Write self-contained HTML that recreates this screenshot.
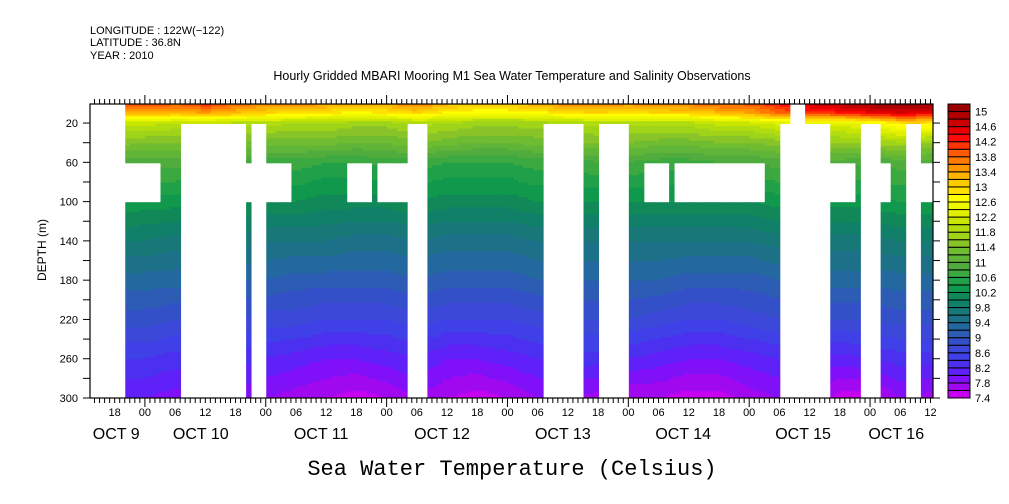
<!DOCTYPE html>
<html><head><meta charset="utf-8">
<style>
html,body{margin:0;padding:0;background:#fff;}
svg{display:block;font-family:"Liberation Sans",sans-serif;}
</style></head>
<body>
<svg id="chart" width="1009" height="504" viewBox="0 0 1009 504" xmlns="http://www.w3.org/2000/svg">
<g font-size="11" fill="#000">
<text x="90" y="34">LONGITUDE : 122W(−122)</text>
<text x="90" y="46">LATITUDE : 36.8N</text>
<text x="90" y="59">YEAR : 2010</text>
</g>
<text x="512" y="80" text-anchor="middle" font-size="12.5">Hourly Gridded MBARI Mooring M1 Sea Water Temperature and Salinity Observations</text>
<g id="heat"></g>
<g id="axes"></g>
<g id="cbar"></g>
<text transform="translate(46,250) rotate(-90)" text-anchor="middle" font-size="12">DEPTH (m)</text>
<text x="512" y="475" text-anchor="middle" font-family="Liberation Mono, monospace" font-size="22">Sea Water Temperature (Celsius)</text>
</svg>
<script>
// ---- data ----
const hours = [12,18,24,30,36,42,48,54,60,66,72,78,84,90,96,102,108,114,120,126,132,138,144,150,156,162,168,174,180,186];
const depths = [0,10,20,40,60,100,140,180,220,260,300];
const temp0   = [13.8,13.8,14.1,13.9,14.2,13.8,13.6,13.6,13.5,13.4,13.4,13.7,13.3,13.2,13.2,13.4,13.6,13.6,13.5,13.6,13.7,13.9,13.9,14.3,14.7,14.9,15.1,15.2,15.1,15.1];
const temp10  = [13.2,13.2,13.3,13.2,13.4,13.2,13.0,12.9,12.8,12.7,12.8,13.0,12.7,12.6,12.6,12.7,12.9,13.0,12.9,13.0,13.0,13.2,13.4,13.8,14.0,14.2,14.4,14.6,14.4,14.4];
const temp20  = [12.1,12.1,12.1,12.0,12.0,11.9,11.9,11.8,11.8,11.7,11.7,11.9,11.8,11.7,11.7,11.7,11.8,11.9,11.9,11.9,11.9,12.1,12.1,12.3,12.3,12.3,12.5,12.9,12.9,12.9];
const temp40  = [11.6,11.5,11.4,11.4,11.4,11.4,11.3,11.3,11.3,11.2,11.2,11.4,11.3,11.2,11.2,11.3,11.4,11.4,11.4,11.3,11.3,11.4,11.4,11.5,11.6,11.6,11.6,11.8,11.6,11.6];
const temp60  = [10.9,10.9,10.9,10.9,10.8,10.8,10.7,10.7,10.6,10.6,10.7,10.7,10.6,10.6,10.6,10.7,10.7,10.8,10.8,10.7,10.7,10.8,10.8,10.9,10.9,10.9,10.8,10.9,10.9,10.9];
const temp100 = [10.4,10.4,10.3,10.3,10.2,10.2,10.2,10.2,10.1,10.1,10.1,10.2,10.1,10.1,10.1,10.2,10.2,10.2,10.2,10.2,10.2,10.2,10.2,10.3,10.3,10.3,10.3,10.4,10.4,10.4];
const temp140 = [9.8,9.8,9.8,9.7,9.7,9.7,9.6,9.6,9.6,9.5,9.5,9.6,9.5,9.5,9.5,9.6,9.6,9.6,9.6,9.6,9.6,9.6,9.6,9.7,9.7,9.7,9.7,9.8,9.8,9.8];
const temp180 = [9.3,9.3,9.3,9.3,9.2,9.2,9.2,9.1,9.1,9.1,9.1,9.2,9.1,9.1,9.1,9.2,9.2,9.2,9.2,9.2,9.1,9.1,9.1,9.2,9.3,9.3,9.3,9.3,9.3,9.3];
const temp220 = [8.9,8.9,8.9,8.8,8.8,8.8,8.7,8.7,8.6,8.6,8.6,8.7,8.6,8.6,8.6,8.7,8.8,8.8,8.8,8.7,8.6,8.6,8.7,8.8,8.8,8.8,8.8,8.9,8.9,8.9];
const temp260 = [8.4,8.4,8.4,8.3,8.3,8.3,8.2,8.1,8.0,8.0,8.1,8.2,8.0,8.0,8.1,8.2,8.3,8.3,8.2,8.1,8.0,8.0,8.1,8.2,8.2,8.1,8.2,8.3,8.3,8.3];
const temp300 = [8.0,8.0,8.0,7.9,7.9,7.9,7.8,7.7,7.6,7.5,7.6,7.8,7.6,7.5,7.6,7.8,7.8,7.7,7.6,7.6,7.5,7.5,7.7,7.8,7.8,7.5,7.5,7.8,7.7,7.7];
// missing-data gaps: [startHour, endHour, topDepth, bottomDepth]
const gapStart = [13,20.2,31.0,45.1,43.9,64.1,70.1,76.0,103.0,114.0,123.1,129.3,150.3,152.3,160.0,166.4,170.2,175.3,178.1];
const gapEnd   = [20.2,26.8,43.9,47.8,52.8,68.9,76.0,80.0,111.0,119.9,127.9,147.1,160.0,155.1,165.2,170.2,172.2,178.1,181];
const gapTop   = [0,60,20,20,60,60,60,20,20,20,60,60,20,0,60,20,60,20,60];
const gapBot   = [300,100,300,300,100,100,100,300,300,300,100,100,300,20,100,300,100,300,100];
// colour levels
const levelMin = 7.4, levelStep = 0.2;
const levelColors = ["#c800f0","#a008f0","#8010f8","#6020f8","#4c30f0","#4040e8","#3c48d8","#3450c8","#2c5cb4","#2468a0","#1c7088","#187878","#108068","#108858","#10984c","#20a048","#3ca840","#50ac3c","#60b438","#70bc30","#88c428","#a0d418","#b0dc10","#c8e600","#e0f000","#f0f800","#ffff00","#ffe000","#ffcc00","#ffb400","#ff9600","#ff7a00","#ff5a00","#ff3300","#ff0a0a","#e60000","#cc0000","#b00000","#9b0000"];
const cbLabels = ["15","14.6","14.2","13.8","13.4","13","12.6","12.2","11.8","11.4","11","10.6","10.2","9.8","9.4","9","8.6","8.2","7.8","7.4"];
const yTickLabels = ["20","60","100","140","180","220","260","300"];
const xHourLabels = ["18","00","06","12","18","00","06","12","18","00","06","12","18","00","06","12","18","00","06","12","18","00","06","12","18","00","06","12","18","00","06","12"];
const dayLabels = ["OCT  9","OCT 10","OCT 11","OCT 12","OCT 13","OCT 14","OCT 15","OCT 16"];
const dayLabelHour = [18.3,35.1,59.0,83.0,107.0,130.9,154.7,173.2];

// ---- scales ----
const PL=90, PR=933, PT=104, PB=398;
const H0=13.1, H1=180.5, D0=0.6, D1=300;
const xS = h => PL + (h-H0)/(H1-H0)*(PR-PL);
const yS = d => PT + (d-D0)/(D1-D0)*(PB-PT);
const NS="http://www.w3.org/2000/svg";
function mk(tag, attrs, parent){const e=document.createElementNS(NS,tag);for(const k in attrs)e.setAttribute(k,attrs[k]);parent.appendChild(e);return e;}
const grid=[temp0,temp10,temp20,temp40,temp60,temp100,temp140,temp180,temp220,temp260,temp300];

function interp(h,d){
  let i=0; while(i<hours.length-2 && h>hours[i+1]) i++;
  let j=0; while(j<depths.length-2 && d>depths[j+1]) j++;
  const tx=Math.min(1,Math.max(0,(h-hours[i])/(hours[i+1]-hours[i])));
  const ty=Math.min(1,Math.max(0,(d-depths[j])/(depths[j+1]-depths[j])));
  const a=grid[j][i],b=grid[j][i+1],c=grid[j+1][i],e=grid[j+1][i+1];
  return (a*(1-tx)+b*tx)*(1-ty)+(c*(1-tx)+e*tx)*ty;
}
function inGap(h,d){
  for(let k=0;k<gapStart.length;k++) if(h>=gapStart[k]&&h<gapEnd[k]&&d>=gapTop[k]&&d<gapBot[k]) return true;
  return false;
}
function colorFor(v){let idx=Math.floor((v-levelMin)/levelStep);idx=Math.max(0,Math.min(levelColors.length-1,idx));return levelColors[idx];}

// ---- heatmap ----
const heat=document.getElementById('heat');
const dh=1, dd=2.5;
for(let h=H0; h<H1; h+=dh){
  const h2=Math.min(H1,h+dh), hm=(h+h2)/2;
  let runStart=null, runCol=null;
  const flush=(dEnd)=>{ if(runStart!==null){
      const r=mk('rect',{x:xS(h).toFixed(2),y:yS(runStart).toFixed(2),width:(xS(h2)-xS(h)+0.4).toFixed(2),height:(yS(dEnd)-yS(runStart)+0.4).toFixed(2),fill:runCol},heat);
      
      
  } runStart=null; };
  for(let d=D0; d<D1; d+=dd){
    const d2=Math.min(D1,d+dd), dm=(d+d2)/2;
    if(inGap(hm,dm)){ flush(d); continue; }
    const c=colorFor(interp(hm,dm));
    if(runStart!==null && c!==runCol) flush(d);
    if(runStart===null){runStart=d;runCol=c;}
  }
  flush(D1);
}

// ---- axes ----
const ax=document.getElementById('axes');
const frame=mk('rect',{x:PL,y:PT,width:PR-PL,height:PB-PT,fill:'none',stroke:'#000','stroke-width':1.2},ax);


for(let h=14; h<=180; h++){
  const x=xS(h), len=(h%24===0)?9:5;
  mk('line',{x1:x,y1:PB,x2:x,y2:PB+len,stroke:'#000','stroke-width':1},ax);
  mk('line',{x1:x,y1:PT,x2:x,y2:PT-len,stroke:'#000','stroke-width':1},ax);
}
xHourLabels.forEach((lab,i)=>{
  const h=18+6*i; if(h>H1) return;
  const t=mk('text',{x:xS(h),y:416,'text-anchor':'middle','font-size':11},ax);
  t.textContent=lab;
  
  
});
dayLabels.forEach((lab,i)=>{
  const t=mk('text',{x:xS(dayLabelHour[i]),y:439,'text-anchor':'middle','font-size':16,'xml:space':'preserve'},ax);
  t.textContent=lab;
  
  
});
for(let d=20; d<=300; d+=20){
  const y=yS(d);
  mk('line',{x1:PL,y1:y,x2:PL-7,y2:y,stroke:'#000'},ax);
  mk('line',{x1:PR,y1:y,x2:PR+7,y2:y,stroke:'#000'},ax);
}
yTickLabels.forEach(lab=>{
  const t=mk('text',{x:78,y:yS(+lab)+4,'text-anchor':'end','font-size':11},ax);
  t.textContent=lab;
  
  
});

// ---- colorbar ----
const cb=document.getElementById('cbar');
const CX=948, CW=22, CT=104, CB=398, bh=(CB-CT)/levelColors.length;
levelColors.forEach((c,i)=>{
  const r=mk('rect',{x:CX,y:(CB-(i+1)*bh).toFixed(2),width:CW,height:bh.toFixed(2),fill:c,stroke:'#000','stroke-width':1},cb);
  
  
});
cbLabels.forEach(lab=>{
  const v=parseFloat(lab);
  const y=CB-(v-levelMin)/levelStep*bh;
  const t=mk('text',{x:975,y:y+4,'font-size':11},cb);
  t.textContent=lab;
  
  
});
</script>
</body></html>
